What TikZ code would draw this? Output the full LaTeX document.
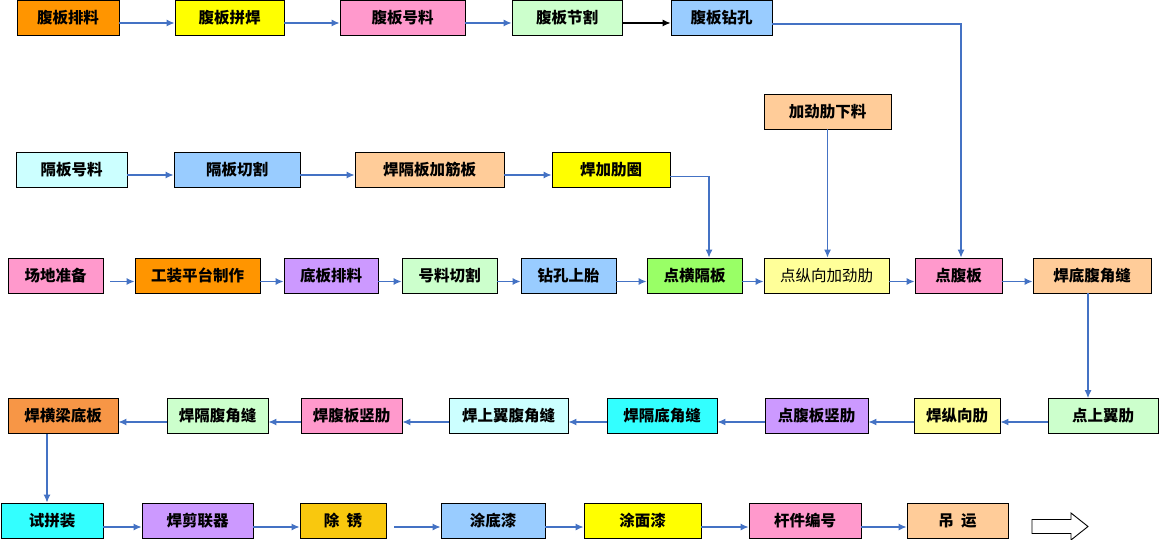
\documentclass[tikz,border=0pt]{standalone}
\usepackage{fontspec}
\newfontfamily\cjk{Noto Sans CJK SC}
\usetikzlibrary{arrows.meta}
\definecolor{cOrange}{HTML}{FF9500}
\definecolor{cYellow}{HTML}{FFFF00}
\definecolor{cPink}{HTML}{FF99CC}
\definecolor{cLGreen}{HTML}{CCFFCC}
\definecolor{cLBlue}{HTML}{99CCFF}
\definecolor{cPeach}{HTML}{FFCC99}
\definecolor{cLCyan}{HTML}{CCFFFF}
\definecolor{cPurple}{HTML}{CC99FF}
\definecolor{cLime}{HTML}{99FF66}
\definecolor{cLYellow}{HTML}{FFFF99}
\definecolor{cCoral}{HTML}{F79646}
\definecolor{cCyan}{HTML}{33FFFF}
\definecolor{cGold}{HTML}{F9C80E}
\definecolor{cArrow}{HTML}{4472C4}
\tikzset{
  box/.style={draw=black, line width=0.9pt, minimum height=35pt, inner sep=0pt,
    font=\cjk\bfseries\fontsize{15.5}{15.5}\selectfont},
  thin text/.style={font=\cjk\fontsize{15.5}{15.5}\selectfont},
  arr/.style={draw=cArrow, line width=1.1pt, -{Latex[length=8pt,width=7pt]}},
  karr/.style={draw=black, line width=1.1pt, -{Latex[length=8pt,width=7pt]}}
}
\begin{document}
\begin{tikzpicture}[x=1pt,y=-1pt]
\useasboundingbox (0,0) rectangle (1160,540);
% row 1
\node[box, fill=cOrange, minimum width=102pt] (a1) at (68,18) {腹板排料};
\node[box, fill=cYellow, minimum width=109pt] (a2) at (229.5,18) {腹板拼焊};
\node[box, fill=cPink, minimum width=125pt] (a3) at (402.5,18) {腹板号料};
\node[box, fill=cLGreen, minimum width=110pt] (a4) at (567,18) {腹板节割};
\node[box, fill=cLBlue, minimum width=101pt] (a5) at (721.5,18) {腹板钻孔};
\node[box, fill=cPeach, minimum width=127pt] (jl) at (827.5,111.5) {加劲肋下料};
% row 2
\node[box, fill=cLCyan, minimum width=111pt] (b1) at (71.5,169.5) {隔板号料};
\node[box, fill=cLBlue, minimum width=126pt] (b2) at (237,169.5) {隔板切割};
\node[box, fill=cPeach, minimum width=149pt] (b3) at (429.5,169.5) {焊隔板加筋板};
\node[box, fill=cYellow, minimum width=118pt] (b4) at (611,169.5) {焊加肋圈};
% row 3
\node[box, fill=cPink, minimum width=95pt] (c1) at (55.5,275.5) {场地准备};
\node[box, fill=cOrange, minimum width=125pt] (c2) at (197.5,275.5) {工装平台制作};
\node[box, fill=cPurple, minimum width=94pt] (c3) at (331,275.5) {底板排料};
\node[box, fill=cLGreen, minimum width=95pt] (c4) at (449.5,275.5) {号料切割};
\node[box, fill=cLBlue, minimum width=95pt] (c5) at (568.5,275.5) {钻孔上胎};
\node[box, fill=cLime, minimum width=95pt] (c6) at (694.5,275.5) {点横隔板};
\node[box, thin text, fill=cLYellow, minimum width=125pt] (c7) at (826.5,275.5) {点纵向加劲肋};
\node[box, fill=cPink, minimum width=87pt] (c8) at (958.5,275.5) {点腹板};
\node[box, fill=cPeach, minimum width=118pt] (c9) at (1092,275.5) {焊底腹角缝};
% row 4
\node[box, fill=cCoral, minimum width=110pt] (d1) at (63,416) {焊横梁底板};
\node[box, fill=cLGreen, minimum width=101pt] (d2) at (217.5,416) {焊隔腹角缝};
\node[box, fill=cPink, minimum width=101pt] (d3) at (351.5,416) {焊腹板竖肋};
\node[box, fill=cLCyan, minimum width=119pt] (d4) at (508.5,416) {焊上翼腹角缝};
\node[box, fill=cCyan, minimum width=110pt] (d5) at (662,416) {焊隔底角缝};
\node[box, fill=cPurple, minimum width=103pt] (d6) at (816.5,416) {点腹板竖肋};
\node[box, fill=cLYellow, minimum width=86pt] (d7) at (957,416) {焊纵向肋};
\node[box, fill=cLGreen, minimum width=110pt] (d8) at (1103,416) {点上翼肋};
% row 5
\node[box, fill=cCyan, minimum width=102pt] (e1) at (52,520.5) {试拼装};
\node[box, fill=cPurple, minimum width=111pt] (e2) at (197.5,520.5) {焊剪联器};
\node[box, fill=cGold, minimum width=86pt] (e3) at (343,520.5) {除\ \ 锈};
\node[box, fill=cLBlue, minimum width=104pt] (e4) at (493,520.5) {涂底漆};
\node[box, fill=cYellow, minimum width=117pt] (e5) at (642.5,520.5) {涂面漆};
\node[box, fill=cPink, minimum width=112pt] (e6) at (805,520.5) {杆件编号};
\node[box, fill=cPeach, minimum width=101pt] (e7) at (957.5,520.5) {吊\ \ 运};
% hollow arrow
\draw[line width=0.9pt, fill=white] (1032,519.5) -- (1071,519.5) -- (1071,513) -- (1088,526.5) -- (1071,540) -- (1071,533.5) -- (1032,533.5) -- cycle;
% row 1 connectors
\draw[arr] ([yshift=-5pt]a1.east) -- ([yshift=-5pt]a2.west);
\draw[arr] ([yshift=-5pt]a2.east) -- ([yshift=-5pt]a3.west);
\draw[arr] ([yshift=-5pt]a3.east) -- ([yshift=-5pt]a4.west);
\draw[karr] ([yshift=-5pt]a4.east) -- ([yshift=-5pt]a5.west);
\draw[arr] ([yshift=-6pt]a5.east) -| ([xshift=2.5pt]c8.north);
\draw[arr] (jl.south) -- (jl.south |- c7.north);
% row 2
\draw[arr] ([yshift=-5.5pt]b1.east) -- ([yshift=-5.5pt]b2.west);
\draw[arr] ([yshift=-5.5pt]b2.east) -- ([yshift=-5.5pt]b3.west);
\draw[arr] ([yshift=-5.5pt]b3.east) -- ([yshift=-5.5pt]b4.west);
\draw[arr] ([yshift=-7pt]b4.east) -| ([xshift=14.5pt]c6.north);
% row 3
\draw[arr] ([xshift=7pt,yshift=-6pt]c1.east) -- ([yshift=-6pt]c2.west);
\draw[arr] ([yshift=-6pt]c2.east) -- ([yshift=-6pt]c3.west);
\draw[arr] ([yshift=-6pt]c3.east) -- ([yshift=-6pt]c4.west);
\draw[arr] ([yshift=-6pt]c4.east) -- ([yshift=-6pt]c5.west);
\draw[arr] ([yshift=-6pt]c5.east) -- ([yshift=-6pt]c6.west);
\draw[arr] ([yshift=-6pt]c6.east) -- ([yshift=-6pt]c7.west);
\draw[arr] ([yshift=-6pt]c7.east) -- ([yshift=-6pt]c8.west);
\draw[arr] ([yshift=-6pt]c8.east) -- ([yshift=-6pt]c9.west);
\draw[arr] ([xshift=-4pt]c9.south) -- ([xshift=-4pt]c9.south |- d8.north);
% row 4
\draw[arr] ([yshift=-6pt]d8.west) -- ([yshift=-6pt]d7.east);
\draw[arr] ([yshift=-6pt]d7.west) -- ([yshift=-6pt]d6.east);
\draw[arr] ([yshift=-6pt]d6.west) -- ([yshift=-6pt]d5.east);
\draw[arr] ([yshift=-6pt]d5.west) -- ([yshift=-6pt]d4.east);
\draw[arr] ([yshift=-6pt]d4.west) -- ([yshift=-6pt]d3.east);
\draw[arr] ([yshift=-6pt]d3.west) -- ([yshift=-6pt]d2.east);
\draw[arr] ([yshift=-6pt]d2.west) -- ([yshift=-6pt]d1.east);
\draw[arr] ([xshift=-16pt]d1.south) -- ([xshift=-16pt]d1.south |- e1.north);
% row 5
\draw[arr] ([yshift=-6.5pt]e1.east) -- ([yshift=-6.5pt]e2.west);
\draw[arr] ([yshift=-6.5pt]e2.east) -- ([yshift=-6.5pt]e3.west);
\draw[arr] ([xshift=8pt,yshift=-6.5pt]e3.east) -- ([yshift=-6.5pt]e4.west);
\draw[arr] ([yshift=-6.5pt]e4.east) -- ([yshift=-6.5pt]e5.west);
\draw[arr] ([yshift=-6.5pt]e5.east) -- ([yshift=-6.5pt]e6.west);
\draw[arr] ([yshift=-6.5pt]e6.east) -- ([yshift=-6.5pt]e7.west);
\end{tikzpicture}
\end{document}
